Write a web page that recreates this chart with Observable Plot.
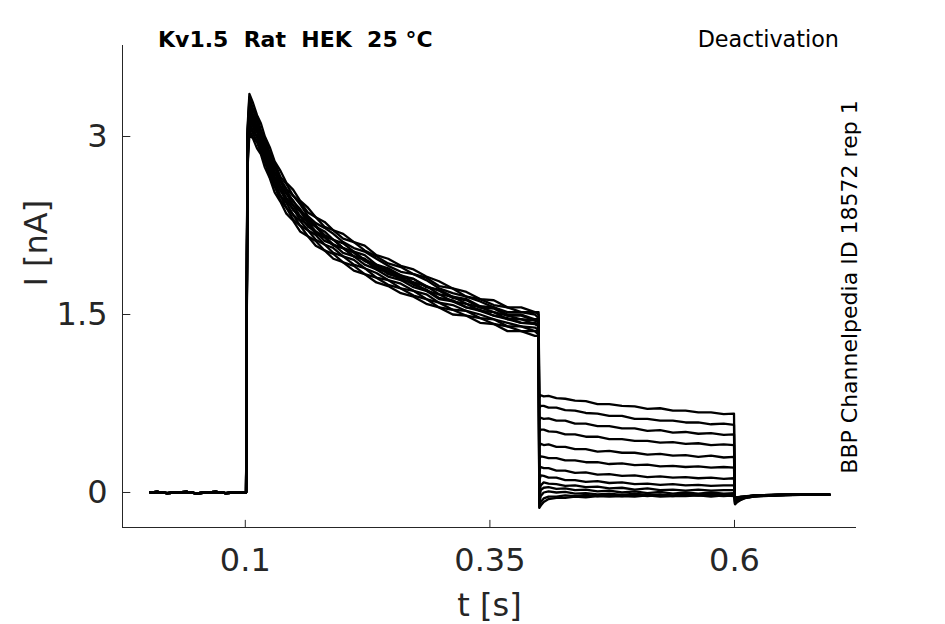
<!DOCTYPE html>
<html>
<head>
<meta charset="utf-8">
<script src="https://cdn.jsdelivr.net/npm/d3@7"></script>
<script src="https://cdn.jsdelivr.net/npm/@observablehq/plot@0.6"></script>
<style>
  html, body { margin: 0; padding: 0; background: #fff; }
  #chart { width: 945px; height: 624px; }
</style>
</head>
<body>
<div id="chart"></div>
<script>
// ---------- data ----------
const xTicks = [0.1, 0.35, 0.6];
const yTicks = [0, 1.5, 3];
const xDomain = [-0.0255, 0.7247];
const yDomain = [-0.295, 3.767];

const titleText = "Kv1.5  Rat  HEK  25 °C";
const protocolText = "Deactivation";
const sideText = "BBP Channelpedia ID 18572 rep 1";

// baseline before the step (shared by all sweeps)
const tPre = [0.003, 0.01, 0.02, 0.03, 0.04, 0.05, 0.06, 0.07, 0.08, 0.09, 0.1002];
const iPre = [0.0, 0.005, -0.005, 0.0, 0.005, -0.008, 0.0, 0.005, -0.005, 0.0, 0.0];

// activating step
const tAct = [0.1008, 0.1022, 0.1042, 0.108, 0.112, 0.116, 0.120, 0.125, 0.130, 0.136, 0.142, 0.149, 0.156, 0.164, 0.172, 0.181, 0.190, 0.200, 0.211, 0.222, 0.234, 0.246, 0.259, 0.272, 0.285, 0.298, 0.312, 0.326, 0.340, 0.354, 0.368, 0.382, 0.396, 0.3998];
const iAct = [
  [0.01, 3.06, 3.36, 3.28, 3.18, 3.11, 3.00, 2.91, 2.79, 2.71, 2.61, 2.55, 2.46, 2.40, 2.32, 2.28, 2.21, 2.18, 2.11, 2.08, 2.00, 1.97, 1.91, 1.88, 1.82, 1.78, 1.72, 1.69, 1.63, 1.62, 1.56, 1.56, 1.52, 1.52],
  [0.0, 3.02, 3.33, 3.23, 3.17, 3.05, 2.99, 2.86, 2.78, 2.66, 2.60, 2.50, 2.45, 2.36, 2.32, 2.24, 2.21, 2.14, 2.11, 2.04, 1.99, 1.93, 1.90, 1.84, 1.81, 1.74, 1.72, 1.65, 1.63, 1.58, 1.56, 1.52, 1.52, 1.50],
  [0.0, 3.00, 3.30, 3.22, 3.14, 3.04, 2.95, 2.86, 2.76, 2.64, 2.56, 2.50, 2.43, 2.33, 2.27, 2.23, 2.18, 2.11, 2.06, 2.03, 1.97, 1.91, 1.86, 1.84, 1.79, 1.72, 1.68, 1.65, 1.61, 1.56, 1.52, 1.52, 1.50, 1.47],
  [0.01, 2.97, 3.27, 3.18, 3.12, 3.02, 2.95, 2.82, 2.74, 2.62, 2.55, 2.45, 2.39, 2.30, 2.25, 2.17, 2.13, 2.06, 2.02, 1.95, 1.91, 1.84, 1.81, 1.75, 1.71, 1.64, 1.62, 1.56, 1.54, 1.49, 1.47, 1.43, 1.43, 1.40],
  [0.0, 2.95, 3.25, 3.17, 3.08, 3.02, 2.91, 2.82, 2.70, 2.62, 2.52, 2.46, 2.37, 2.32, 2.24, 2.20, 2.13, 2.10, 2.03, 2.00, 1.92, 1.89, 1.83, 1.80, 1.74, 1.70, 1.64, 1.62, 1.56, 1.55, 1.49, 1.49, 1.45, 1.45],
  [0.0, 2.92, 3.22, 3.15, 3.06, 2.98, 2.91, 2.78, 2.70, 2.58, 2.52, 2.42, 2.37, 2.28, 2.24, 2.16, 2.13, 2.06, 2.03, 1.96, 1.92, 1.86, 1.83, 1.77, 1.74, 1.67, 1.65, 1.59, 1.56, 1.52, 1.49, 1.46, 1.45, 1.43],
  [0.0, 2.89, 3.19, 3.12, 3.04, 2.98, 2.87, 2.78, 2.66, 2.58, 2.48, 2.42, 2.33, 2.28, 2.20, 2.16, 2.09, 2.06, 1.99, 1.96, 1.88, 1.86, 1.79, 1.77, 1.70, 1.67, 1.61, 1.59, 1.53, 1.52, 1.46, 1.46, 1.42, 1.42],
  [0.0, 2.87, 3.17, 3.09, 3.04, 2.94, 2.87, 2.74, 2.66, 2.54, 2.48, 2.38, 2.33, 2.24, 2.20, 2.12, 2.09, 2.02, 1.99, 1.92, 1.88, 1.82, 1.79, 1.73, 1.70, 1.63, 1.61, 1.56, 1.53, 1.49, 1.46, 1.43, 1.42, 1.40],
  [0.0, 2.84, 3.14, 3.08, 2.99, 2.94, 2.83, 2.74, 2.62, 2.55, 2.45, 2.39, 2.30, 2.26, 2.18, 2.15, 2.08, 2.06, 1.99, 1.97, 1.89, 1.88, 1.81, 1.80, 1.73, 1.71, 1.65, 1.63, 1.57, 1.56, 1.50, 1.50, 1.46, 1.46],
  [0.0, 2.82, 3.12, 3.04, 3.00, 2.90, 2.83, 2.70, 2.62, 2.50, 2.44, 2.34, 2.29, 2.21, 2.17, 2.09, 2.06, 1.99, 1.96, 1.89, 1.85, 1.79, 1.76, 1.70, 1.67, 1.60, 1.58, 1.53, 1.50, 1.46, 1.43, 1.40, 1.39, 1.37],
  [0.0, 2.79, 3.09, 3.02, 2.96, 2.90, 2.79, 2.70, 2.58, 2.50, 2.40, 2.34, 2.25, 2.21, 2.13, 2.09, 2.02, 1.99, 1.92, 1.89, 1.81, 1.79, 1.72, 1.70, 1.63, 1.60, 1.54, 1.53, 1.47, 1.46, 1.40, 1.40, 1.36, 1.36],
  [0.0, 2.75, 3.05, 2.99, 2.95, 2.86, 2.79, 2.66, 2.58, 2.46, 2.40, 2.30, 2.25, 2.16, 2.12, 2.04, 2.01, 1.94, 1.91, 1.84, 1.81, 1.75, 1.72, 1.66, 1.63, 1.56, 1.54, 1.49, 1.47, 1.42, 1.40, 1.36, 1.36, 1.33],
  [0.0, 2.72, 3.02, 2.98, 2.90, 2.85, 2.74, 2.65, 2.53, 2.45, 2.35, 2.29, 2.20, 2.16, 2.08, 2.04, 1.97, 1.94, 1.87, 1.84, 1.77, 1.74, 1.68, 1.65, 1.59, 1.56, 1.50, 1.49, 1.43, 1.42, 1.36, 1.36, 1.32, 1.32]
];

// deactivating (tail) step
const tTail = [0.4005, 0.402, 0.405, 0.41, 0.418, 0.427, 0.437, 0.448, 0.46, 0.472, 0.485, 0.498, 0.511, 0.524, 0.537, 0.55, 0.563, 0.576, 0.589, 0.5995];
const iTail = [
  [0.80, 0.82, 0.81, 0.815, 0.795, 0.79, 0.775, 0.77, 0.745, 0.745, 0.73, 0.725, 0.705, 0.71, 0.69, 0.69, 0.675, 0.675, 0.66, 0.665],
  [0.71, 0.73, 0.73, 0.715, 0.715, 0.695, 0.69, 0.67, 0.665, 0.645, 0.645, 0.62, 0.62, 0.605, 0.605, 0.59, 0.59, 0.575, 0.58, 0.57],
  [0.61, 0.63, 0.62, 0.625, 0.605, 0.605, 0.58, 0.58, 0.56, 0.56, 0.54, 0.54, 0.52, 0.525, 0.505, 0.51, 0.495, 0.5, 0.485, 0.49],
  [0.51, 0.53, 0.53, 0.515, 0.51, 0.49, 0.49, 0.47, 0.47, 0.45, 0.45, 0.435, 0.435, 0.42, 0.425, 0.41, 0.415, 0.40, 0.405, 0.40],
  [0.39, 0.41, 0.40, 0.405, 0.385, 0.385, 0.365, 0.365, 0.345, 0.35, 0.335, 0.335, 0.32, 0.325, 0.31, 0.315, 0.30, 0.31, 0.295, 0.30],
  [0.28, 0.305, 0.30, 0.29, 0.29, 0.27, 0.27, 0.255, 0.255, 0.24, 0.245, 0.23, 0.235, 0.22, 0.225, 0.215, 0.22, 0.21, 0.215, 0.21],
  [0.18, 0.215, 0.205, 0.205, 0.185, 0.185, 0.165, 0.17, 0.15, 0.155, 0.14, 0.145, 0.13, 0.135, 0.125, 0.13, 0.12, 0.125, 0.115, 0.12],
  [0.10, 0.145, 0.14, 0.125, 0.125, 0.105, 0.105, 0.09, 0.095, 0.08, 0.085, 0.07, 0.075, 0.065, 0.07, 0.06, 0.065, 0.055, 0.06, 0.06],
  [-0.02, 0.06, 0.085, 0.075, 0.07, 0.055, 0.06, 0.045, 0.05, 0.035, 0.04, 0.025, 0.035, 0.02, 0.025, 0.015, 0.025, 0.015, 0.02, 0.02],
  [-0.06, 0.02, 0.04, 0.045, 0.03, 0.035, 0.02, 0.025, 0.01, 0.015, 0.0, 0.01, -0.005, 0.005, -0.01, 0.0, -0.01, 0.0, -0.01, -0.005],
  [-0.09, -0.03, 0.0, 0.01, 0.0, 0.005, -0.01, -0.005, -0.015, -0.01, -0.02, -0.01, -0.02, -0.015, -0.025, -0.015, -0.025, -0.015, -0.02, -0.02],
  [-0.12, -0.08, -0.05, -0.035, -0.035, -0.025, -0.03, -0.02, -0.03, -0.02, -0.03, -0.02, -0.03, -0.02, -0.03, -0.02, -0.025, -0.025, -0.03, -0.025],
  [-0.13, -0.11, -0.08, -0.055, -0.045, -0.045, -0.035, -0.04, -0.03, -0.035, -0.03, -0.035, -0.025, -0.035, -0.03, -0.03, -0.025, -0.035, -0.025, -0.03]
];

// after the tail step
const tPost = [0.6005, 0.603, 0.606, 0.61, 0.615, 0.62, 0.63, 0.645, 0.66, 0.675, 0.69, 0.697];
const iPost = [
  [-0.10, -0.08, -0.065, -0.05, -0.04, -0.035, -0.03, -0.025, -0.02, -0.02, -0.015, -0.02],
  [-0.095, -0.075, -0.06, -0.048, -0.04, -0.033, -0.028, -0.022, -0.02, -0.018, -0.02, -0.015],
  [-0.09, -0.07, -0.058, -0.045, -0.038, -0.032, -0.027, -0.02, -0.022, -0.017, -0.018, -0.02],
  [-0.085, -0.068, -0.055, -0.043, -0.036, -0.03, -0.026, -0.022, -0.018, -0.02, -0.016, -0.018],
  [-0.08, -0.065, -0.052, -0.042, -0.035, -0.03, -0.025, -0.02, -0.02, -0.018, -0.02, -0.017],
  [-0.075, -0.06, -0.05, -0.04, -0.034, -0.029, -0.024, -0.021, -0.019, -0.02, -0.017, -0.019],
  [-0.07, -0.057, -0.048, -0.039, -0.033, -0.028, -0.024, -0.02, -0.02, -0.017, -0.019, -0.018],
  [-0.065, -0.054, -0.046, -0.038, -0.032, -0.028, -0.023, -0.021, -0.018, -0.019, -0.018, -0.02],
  [-0.06, -0.05, -0.044, -0.037, -0.031, -0.027, -0.023, -0.02, -0.02, -0.018, -0.02, -0.017],
  [-0.055, -0.047, -0.042, -0.036, -0.03, -0.027, -0.022, -0.021, -0.019, -0.02, -0.017, -0.019],
  [-0.05, -0.045, -0.04, -0.035, -0.03, -0.026, -0.022, -0.02, -0.02, -0.018, -0.019, -0.018],
  [-0.045, -0.042, -0.038, -0.034, -0.03, -0.026, -0.022, -0.021, -0.018, -0.02, -0.018, -0.02],
  [-0.04, -0.04, -0.036, -0.033, -0.029, -0.025, -0.022, -0.02, -0.02, -0.018, -0.02, -0.017]
];

// ---------- build long-format table ----------
const rows = [];
iAct.forEach((act, k) => {
  tPre.forEach((t, j) => rows.push({sweep: k, t, i: iPre[j]}));
  tAct.forEach((t, j) => rows.push({sweep: k, t, i: act[j]}));
  tTail.forEach((t, j) => rows.push({sweep: k, t, i: iTail[k][j]}));
  tPost.forEach((t, j) => rows.push({sweep: k, t, i: iPost[k][j]}));
});

const axisColor = "#262626";
const font = "DejaVu Sans, Liberation Sans, sans-serif";

const chart = Plot.plot({
  width: 945,
  height: 624,
  marginLeft: 122,
  marginRight: 89,
  marginTop: 45,
  marginBottom: 97,
  x: {domain: xDomain},
  y: {domain: yDomain},
  style: {fontFamily: font, background: "#fff", color: axisColor, overflow: "visible"},
  marks: [
    Plot.ruleY([yDomain[0]], {stroke: axisColor, strokeWidth: 1}),
    Plot.ruleX([xDomain[0]], {stroke: axisColor, strokeWidth: 1}),
    Plot.ruleX(xTicks, {y1: yDomain[0], y2: yDomain[0] + 0.06, stroke: axisColor, strokeWidth: 1}),
    Plot.ruleY(yTicks, {x1: xDomain[0], x2: xDomain[0] + 0.0085, stroke: axisColor, strokeWidth: 1}),
    Plot.axisX(xTicks, {tickSize: 0, tickPadding: 21, fontSize: 32, label: null, tickFormat: d => String(d), fill: axisColor}),
    Plot.axisY(yTicks, {tickSize: 0, tickPadding: 15, fontSize: 32, label: null, tickFormat: d => String(d), fill: axisColor}),
    Plot.line(rows, {x: "t", y: "i", z: "sweep", stroke: "#000", strokeWidth: 2.3, strokeLinejoin: "round"}),
    Plot.text(["t [s]"], {frameAnchor: "bottom", dy: 78, fontSize: 32, fill: axisColor, lineAnchor: "middle"}),
    Plot.text(["I [nA]"], {frameAnchor: "left", dx: -86, rotate: -90, fontSize: 32, fill: axisColor, lineAnchor: "middle"})
  ]
});

const svg = d3.select(chart);
svg.append("text")
  .attr("x", 158).attr("y", 47).attr("text-anchor", "start")
  .attr("font-family", font).attr("font-size", 22).attr("font-weight", "bold")
  .attr("fill", "#000").attr("xml:space", "preserve").style("white-space", "pre")
  .text(titleText);
svg.append("text")
  .attr("x", 839).attr("y", 47).attr("text-anchor", "end")
  .attr("font-family", font).attr("font-size", 22.3)
  .attr("fill", "#000")
  .text(protocolText);
svg.append("text")
  .attr("transform", "translate(849,287) rotate(-90)")
  .attr("text-anchor", "middle").attr("dy", "0.35em")
  .attr("font-family", font).attr("font-size", 22)
  .attr("fill", "#000")
  .text(sideText);

document.getElementById("chart").appendChild(chart);
</script>
</body>
</html>
